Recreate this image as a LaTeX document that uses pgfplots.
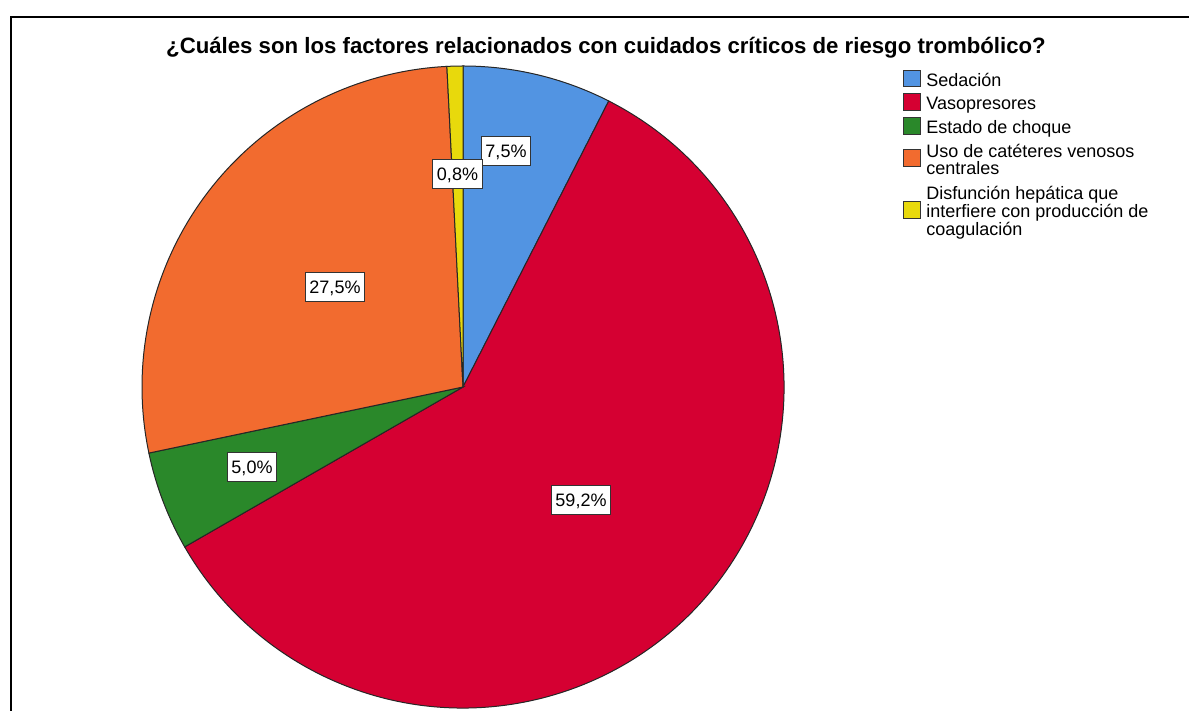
\documentclass[border=0pt]{standalone}
\usepackage{fontspec}
\setmainfont{Liberation Sans}
\usepackage{pgfplots}
\pgfplotsset{compat=1.18}

\definecolor{cSed}{RGB}{82,148,226}
\definecolor{cVas}{RGB}{213,0,50}
\definecolor{cCho}{RGB}{42,136,42}
\definecolor{cCat}{RGB}{242,107,47}
\definecolor{cDis}{RGB}{232,217,12}

% percentages, clockwise from 12 o'clock
\def\vSed{7.5}
\def\vVas{59.2}
\def\vCho{5.0}
\def\vCat{27.5}
\def\vDis{0.8}

\begin{document}
\begin{tikzpicture}[
    lbl/.style={fill=white, draw=black!80, line width=0.5pt,
        font=\fontsize{9}{10}\selectfont, inner xsep=2pt,
        minimum height=14.5pt, text height=6.5pt, text depth=0pt},
    leg/.style={anchor=base west, inner sep=0pt, font=\fontsize{9}{10}\selectfont},
]
\pgfmathsetmacro\aA{90}
\pgfmathsetmacro\aB{\aA-3.6*\vSed}
\pgfmathsetmacro\aC{\aB-3.6*\vVas}
\pgfmathsetmacro\aD{\aC-3.6*\vCho}
\pgfmathsetmacro\aE{\aD-3.6*\vCat}
\pgfmathsetmacro\aF{\aE-3.6*\vDis}
\begin{axis}[
    width=594.5pt, height=355.5pt, scale only axis,
    xmin=0, xmax=1189, ymin=0, ymax=711,
    hide axis, clip=false,
]
\addplot[draw=none] coordinates {(0,0) (1189,711)};

% frame
\draw[line width=1pt] (11,0) -- (11,694) -- (1189,694);

% slices
\filldraw[fill=cSed, draw=black!85, line width=0.5pt] (463,324) -- ++(\aA:160.5pt) arc[start angle=\aA, end angle=\aB, radius=160.5pt] -- cycle;
\filldraw[fill=cVas, draw=black!85, line width=0.5pt] (463,324) -- ++(\aB:160.5pt) arc[start angle=\aB, end angle=\aC, radius=160.5pt] -- cycle;
\filldraw[fill=cCho, draw=black!85, line width=0.5pt] (463,324) -- ++(\aC:160.5pt) arc[start angle=\aC, end angle=\aD, radius=160.5pt] -- cycle;
\filldraw[fill=cCat, draw=black!85, line width=0.5pt] (463,324) -- ++(\aD:160.5pt) arc[start angle=\aD, end angle=\aE, radius=160.5pt] -- cycle;
\filldraw[fill=cDis, draw=black!85, line width=0.5pt] (463,324) -- ++(\aE:160.5pt) arc[start angle=\aE, end angle=\aF, radius=160.5pt] -- cycle;

% slice labels
\node[lbl] at (506,559.5) {7,5\%};
\node[lbl] at (457.5,536.5) {0,8\%};
\node[lbl] at (335,424) {27,5\%};
\node[lbl] at (252,243.5) {5,0\%};
\node[lbl] at (581,211) {59,2\%};

% title
\node[anchor=base, font=\bfseries\fontsize{11.1}{13}\selectfont] at (606,657) {¿Cuáles son los factores relacionados con cuidados críticos de riesgo trombólico?};

% legend
\filldraw[fill=cSed, draw=black!80, line width=0.5pt] (903,640) rectangle (920,624);
\filldraw[fill=cVas, draw=black!80, line width=0.5pt] (903,617) rectangle (920,600);
\filldraw[fill=cCho, draw=black!80, line width=0.5pt] (903,593) rectangle (920,576);
\filldraw[fill=cCat, draw=black!80, line width=0.5pt] (903,561) rectangle (920,544);
\filldraw[fill=cDis, draw=black!80, line width=0.5pt] (903,509) rectangle (920,492);
\node[leg] at (926,624) {Sedación};
\node[leg] at (926,601) {Vasopresores};
\node[leg] at (926,577) {Estado de choque};
\node[leg] at (926,553.7) {Uso de catéteres venosos};
\node[leg] at (926,536) {centrales};
\node[leg] at (926,511) {Disfunción hepática que};
\node[leg] at (926,493.3) {interfiere con producción de};
\node[leg] at (926,475.3) {coagulación};
\end{axis}
\pgfresetboundingbox
\path[use as bounding box] (current axis.south west) rectangle (current axis.north east);
\end{tikzpicture}
\end{document}
